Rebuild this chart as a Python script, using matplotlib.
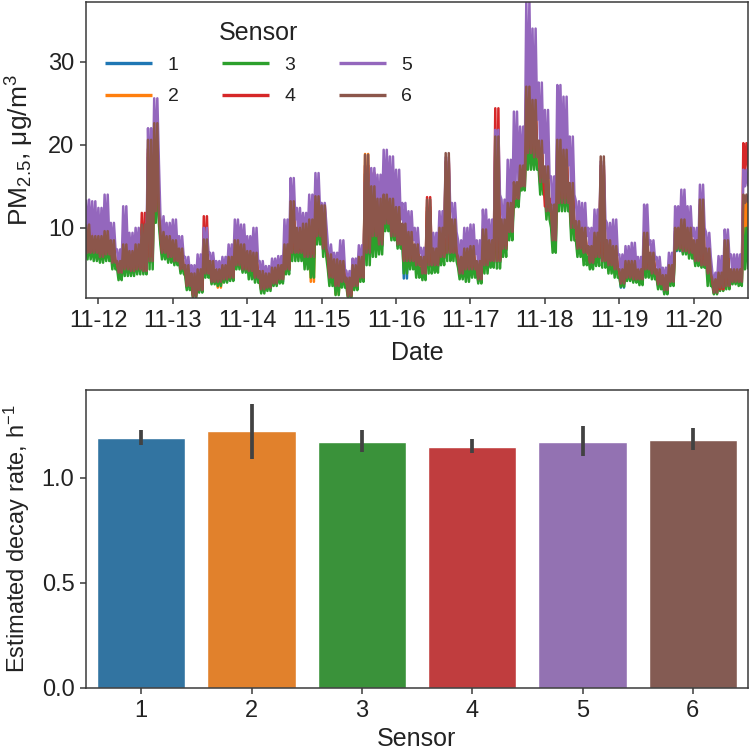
import numpy as np
import pandas as pd
import matplotlib
matplotlib.use("Agg")
import matplotlib.pyplot as plt
import matplotlib.dates as mdates
import seaborn as sns

# ---------------- data ----------------
sensors = ["1", "2", "3", "4", "5", "6"]
start_time = "2019-11-11 20:00"   # first 2-hour bin
# per 2-hour bin: upper (hi) and lower (lo) readings of each sensor, PM2.5 ug/m3
s1_hi = [9.6, 8.6, 8.4, 9.0, 7.8, 5.6, 7.4, 6.8, 7.4, 8.5,
         18.5, 21.0, 8.8, 8.4, 7.8, 6.8, 5.0, 4.0, 4.6, 7.8,
         5.4, 4.6, 5.0, 6.0, 7.8, 7.4, 6.8, 6.4, 4.4, 4.2,
         4.8, 5.0, 7.4, 12.0, 9.2, 9.6, 10.0, 12.6, 11.5, 6.2,
         5.6, 5.4, 3.6, 5.0, 6.0, 16.5, 14.0, 12.5, 13.0, 12.5,
         11.5, 9.6, 8.8, 7.4, 6.0, 12.0, 7.0, 9.2, 17.0, 10.2,
         6.0, 7.0, 7.2, 5.6, 9.0, 8.0, 19.0, 10.2, 12.0, 14.5,
         16.5, 25.0, 23.5, 19.0, 16.0, 12.0, 19.0, 18.0, 14.2, 10.0,
         9.2, 7.2, 8.6, 16.5, 7.8, 7.2, 4.6, 5.6, 5.6, 4.6,
         8.6, 6.6, 4.6, 4.0, 5.0, 9.2, 10.2, 9.2, 7.8, 12.2,
         7.0, 3.5, 4.2, 7.8, 4.6, 4.6, 13.0]
s1_lo = [6.8, 6.8, 6.3, 6.6, 5.6, 4.4, 4.8, 4.6, 4.8, 4.6,
         5.8, 11.5, 6.8, 6.3, 5.8, 4.8, 2.8, 1.8, 2.4, 4.3,
         3.4, 3.3, 3.6, 3.8, 5.3, 4.8, 4.6, 3.8, 2.5, 2.7,
         3.2, 3.5, 4.8, 6.8, 6.8, 6.3, 6.3, 8.8, 7.3, 3.8,
         2.9, 3.3, 1.7, 2.9, 3.8, 6.8, 8.8, 7.8, 10.2, 8.8,
         7.8, 3.9, 5.8, 5.3, 4.3, 5.3, 5.3, 6.3, 6.8, 6.8,
         4.3, 4.8, 4.8, 3.6, 5.3, 5.8, 5.8, 7.3, 9.3, 13.2,
         14.8, 18.5, 18.0, 15.0, 11.6, 8.2, 12.6, 12.6, 9.6, 7.2,
         6.8, 5.6, 6.3, 5.8, 5.3, 4.8, 2.8, 3.8, 3.6, 3.6,
         4.8, 4.3, 3.0, 2.1, 3.3, 7.2, 7.0, 6.8, 5.8, 5.3,
         4.3, 2.1, 2.7, 2.9, 3.4, 3.4, 6.0]
s2_hi = [9.8, 8.8, 8.6, 9.2, 8.0, 5.7, 7.6, 7.0, 7.6, 8.8,
         19.0, 21.5, 9.0, 8.6, 8.0, 7.0, 5.1, 4.1, 4.7, 8.0,
         5.5, 4.7, 5.1, 6.1, 8.0, 7.6, 6.9, 6.5, 4.5, 4.3,
         4.9, 5.1, 7.5, 12.4, 9.4, 9.8, 10.3, 13.0, 12.0, 6.3,
         5.8, 5.6, 3.7, 5.2, 6.2, 18.9, 14.4, 12.8, 13.4, 12.8,
         11.8, 9.8, 9.0, 7.6, 6.2, 12.5, 7.2, 9.4, 17.8, 10.4,
         6.2, 7.2, 7.4, 5.7, 9.2, 8.2, 19.5, 10.4, 12.4, 14.8,
         16.8, 25.5, 24.0, 19.5, 16.5, 12.2, 19.4, 18.4, 14.6, 10.2,
         9.4, 7.4, 8.8, 17.0, 8.0, 7.4, 4.8, 5.7, 5.7, 4.7,
         8.8, 6.7, 4.7, 4.1, 5.2, 9.4, 10.4, 9.4, 8.0, 12.5,
         7.1, 3.6, 4.3, 8.0, 4.7, 4.7, 13.5]
s2_lo = [6.9, 6.9, 6.4, 6.7, 5.7, 4.5, 4.9, 4.7, 4.9, 4.7,
         5.9, 11.8, 6.9, 6.4, 5.9, 4.9, 2.9, 1.8, 2.5, 4.4,
         3.4, 2.8, 3.7, 3.9, 5.4, 4.9, 4.7, 3.9, 2.5, 2.7,
         3.2, 3.7, 4.9, 6.9, 6.9, 6.4, 3.5, 8.9, 7.4, 3.9,
         2.0, 3.4, 1.7, 2.9, 3.9, 6.9, 8.9, 7.9, 10.4, 8.9,
         7.9, 5.9, 5.9, 5.4, 4.4, 5.4, 5.4, 6.4, 6.9, 6.9,
         4.4, 4.9, 4.9, 3.7, 5.4, 5.9, 5.9, 7.4, 9.4, 13.4,
         14.9, 18.8, 17.5, 15.2, 11.8, 8.4, 12.8, 12.8, 9.8, 7.4,
         6.9, 5.7, 6.4, 5.9, 5.4, 4.9, 3.2, 3.9, 3.7, 3.7,
         4.9, 4.4, 3.1, 2.4, 3.4, 7.4, 7.1, 6.9, 5.9, 5.4,
         4.4, 2.1, 2.7, 2.9, 3.4, 3.4, 7.0]
s3_hi = [8.5, 8.0, 7.6, 8.0, 7.0, 5.2, 6.5, 6.0, 6.5, 7.5,
         15.0, 16.0, 8.0, 7.6, 7.0, 6.0, 4.2, 3.2, 3.8, 6.5,
         4.6, 4.2, 4.6, 5.0, 7.0, 6.5, 6.0, 5.5, 3.6, 3.6,
         4.2, 4.6, 6.5, 10.0, 8.5, 8.0, 8.0, 11.0, 10.0, 5.0,
         4.5, 4.5, 2.8, 4.0, 5.0, 13.0, 11.0, 10.0, 11.5, 11.0,
         10.0, 8.0, 7.5, 6.5, 5.2, 9.5, 6.2, 8.0, 14.0, 9.0,
         5.2, 6.0, 6.2, 4.8, 7.5, 7.2, 15.0, 9.0, 11.0, 13.5,
         15.5, 21.0, 20.0, 17.0, 14.0, 10.0, 16.5, 15.5, 12.5, 8.5,
         8.0, 6.5, 7.5, 13.0, 6.8, 6.2, 4.0, 4.8, 4.8, 4.2,
         7.0, 5.6, 4.0, 3.4, 4.5, 8.5, 9.0, 8.5, 7.0, 10.0,
         6.0, 3.0, 3.6, 6.0, 4.2, 4.2, 10.0]
s3_lo = [6.2, 6.0, 5.8, 6.0, 5.0, 3.7, 4.2, 4.2, 4.4, 4.4,
         5.0, 10.6, 6.2, 5.8, 5.5, 4.5, 2.5, 1.55, 2.2, 4.0,
         3.2, 3.0, 3.4, 3.6, 5.0, 4.6, 3.8, 3.4, 2.1, 2.4,
         3.0, 3.3, 4.4, 6.0, 6.0, 5.0, 4.0, 8.0, 6.5, 3.0,
         1.9, 2.8, 1.55, 2.5, 3.5, 5.5, 6.5, 6.8, 9.6, 8.5,
         7.5, 4.5, 5.0, 4.0, 3.7, 4.5, 4.6, 5.5, 6.0, 6.0,
         3.8, 3.5, 4.0, 3.3, 4.5, 5.2, 5.1, 6.5, 8.5, 12.5,
         14.5, 17.0, 17.0, 14.0, 11.0, 7.0, 12.0, 12.0, 8.5, 6.5,
         5.5, 5.0, 5.4, 5.2, 4.5, 4.0, 2.9, 3.6, 3.4, 3.1,
         4.0, 3.8, 2.6, 2.0, 3.0, 7.3, 6.8, 6.3, 5.4, 5.2,
         3.0, 2.0, 2.4, 2.6, 3.2, 3.0, 5.0]
s4_hi = [10.8, 9.8, 8.9, 9.2, 8.0, 5.8, 7.6, 7.0, 7.6, 11.8,
         19.5, 22.0, 9.2, 8.6, 8.0, 7.0, 5.2, 4.2, 4.8, 11.4,
         5.6, 4.8, 5.2, 6.2, 8.0, 7.6, 7.0, 6.6, 4.6, 4.3,
         5.0, 5.2, 7.6, 12.5, 9.5, 10.7, 10.5, 13.2, 12.8, 6.4,
         6.4, 5.8, 3.8, 6.2, 6.2, 17.5, 16.6, 15.2, 13.5, 13.0,
         12.0, 10.0, 9.0, 7.6, 6.2, 13.7, 7.2, 9.5, 18.0, 10.5,
         6.2, 7.2, 7.4, 5.7, 9.4, 8.2, 24.4, 10.5, 15.8, 15.0,
         17.0, 26.6, 26.0, 20.2, 12.6, 13.5, 20.8, 20.6, 15.0, 10.4,
         9.6, 7.4, 9.0, 17.5, 8.2, 7.4, 4.8, 5.8, 5.8, 4.8,
         9.0, 6.8, 4.8, 4.2, 5.3, 9.6, 10.6, 9.6, 8.2, 12.8,
         7.2, 3.6, 4.4, 8.2, 4.8, 4.8, 20.2]
s4_lo = [7.2, 7.2, 6.8, 7.0, 6.0, 4.8, 5.2, 5.0, 5.2, 5.0,
         6.5, 12.5, 7.2, 6.8, 6.2, 5.2, 3.2, 2.0, 2.8, 4.8,
         3.8, 3.8, 4.0, 4.2, 5.8, 5.2, 5.0, 4.2, 2.8, 3.0,
         3.5, 4.0, 5.2, 7.2, 7.2, 6.8, 6.8, 9.2, 7.8, 4.2,
         3.2, 3.8, 2.0, 3.2, 4.2, 7.5, 9.5, 8.5, 11.0, 9.5,
         8.4, 6.2, 6.2, 5.8, 4.8, 5.8, 5.8, 6.8, 7.2, 7.2,
         4.8, 5.2, 5.2, 4.0, 5.8, 6.2, 6.2, 7.8, 10.0, 14.0,
         15.5, 19.5, 19.0, 16.0, 12.5, 9.0, 13.5, 13.5, 10.5, 7.8,
         7.2, 6.0, 6.8, 6.2, 5.8, 5.2, 3.5, 4.2, 4.0, 4.0,
         5.2, 4.8, 3.4, 2.8, 3.8, 7.8, 7.5, 7.2, 6.2, 5.8,
         4.8, 2.4, 2.6, 3.2, 3.8, 3.8, 17.0]
s5_hi = [13.4, 13.2, 12.4, 14.0, 10.6, 7.4, 12.6, 9.4, 10.0, 9.0,
         22.0, 25.6, 11.4, 10.6, 11.0, 9.0, 6.5, 5.5, 6.8, 10.0,
         7.0, 6.0, 6.5, 8.0, 11.0, 10.4, 9.0, 10.0, 6.0, 5.4,
         6.3, 6.6, 11.0, 16.0, 12.4, 11.8, 14.0, 16.6, 13.0, 8.0,
         7.0, 8.5, 4.8, 6.3, 7.9, 15.5, 17.2, 16.4, 19.4, 18.6,
         17.0, 13.0, 12.0, 10.0, 7.6, 10.0, 9.4, 12.0, 18.5, 13.0,
         8.5, 10.0, 10.4, 8.5, 12.2, 11.0, 21.8, 13.4, 18.2, 24.0,
         22.2, 37.2, 34.0, 27.5, 24.2, 16.2, 27.2, 25.8, 21.0, 13.2,
         13.0, 10.0, 12.2, 18.0, 10.6, 11.0, 6.8, 7.8, 8.2, 6.5,
         12.8, 8.5, 6.5, 5.2, 7.0, 12.6, 14.6, 12.6, 10.0, 15.2,
         9.4, 4.6, 6.6, 9.8, 6.8, 6.8, 17.0]
s5_lo = [9.0, 8.2, 8.0, 8.6, 7.5, 5.4, 7.0, 6.5, 7.0, 7.5,
         14.0, 18.0, 8.5, 8.0, 7.5, 6.5, 4.5, 3.5, 4.2, 7.0,
         5.2, 4.4, 4.8, 5.6, 7.5, 7.0, 6.5, 6.0, 4.0, 3.8,
         4.6, 4.8, 7.0, 11.0, 9.0, 9.0, 9.5, 12.0, 10.5, 5.8,
         5.2, 5.0, 3.2, 4.6, 5.6, 12.0, 13.0, 12.0, 13.0, 12.0,
         11.0, 9.0, 8.5, 7.0, 5.8, 7.5, 6.8, 8.8, 12.0, 9.5,
         5.8, 6.5, 6.8, 5.2, 8.4, 7.6, 14.0, 9.8, 12.0, 15.0,
         17.0, 24.0, 23.0, 19.0, 16.0, 11.5, 18.5, 17.5, 14.0, 9.8,
         9.0, 7.0, 8.4, 11.0, 7.5, 6.8, 4.4, 5.2, 5.2, 4.4,
         8.0, 6.2, 4.4, 3.8, 4.8, 9.0, 10.0, 9.0, 7.6, 10.0,
         6.5, 3.3, 4.0, 6.5, 4.5, 4.5, 15.0]
s6_hi = [10.4, 9.0, 9.0, 9.6, 8.5, 6.0, 8.0, 7.2, 8.0, 10.4,
         20.6, 22.6, 9.5, 9.0, 8.5, 7.5, 5.5, 4.5, 5.0, 8.6,
         6.0, 5.0, 5.5, 6.5, 8.5, 8.0, 7.2, 7.0, 4.8, 4.5,
         5.2, 5.5, 8.0, 13.2, 10.0, 10.5, 11.0, 13.8, 12.7, 6.8,
         6.2, 6.0, 4.0, 5.5, 6.5, 18.8, 15.0, 13.5, 14.0, 13.5,
         12.5, 10.5, 9.5, 8.0, 6.5, 13.4, 7.5, 10.0, 19.0, 11.0,
         6.5, 7.5, 7.8, 6.0, 9.8, 8.5, 21.0, 11.0, 13.0, 15.5,
         17.5, 27.0, 25.4, 20.5, 17.4, 12.8, 20.6, 19.4, 15.4, 10.8,
         10.0, 7.8, 9.4, 18.6, 8.5, 7.8, 5.0, 6.0, 6.0, 5.0,
         9.4, 7.0, 5.0, 4.3, 5.5, 10.0, 11.0, 10.0, 8.5, 13.4,
         7.5, 3.8, 4.6, 8.5, 5.0, 5.0, 14.0]
s6_lo = [7.0, 7.0, 6.5, 6.8, 5.8, 4.6, 5.0, 4.8, 5.0, 4.8,
         6.0, 12.0, 7.0, 6.5, 6.0, 5.0, 3.0, 1.7, 2.5, 4.5,
         3.5, 3.5, 3.8, 4.0, 5.5, 5.0, 4.8, 4.0, 2.6, 2.8,
         3.3, 3.8, 5.0, 7.0, 7.0, 6.5, 6.5, 9.0, 7.5, 4.0,
         3.0, 3.5, 1.8, 3.0, 4.0, 7.0, 9.0, 8.0, 10.5, 9.0,
         8.0, 6.0, 6.0, 5.5, 4.5, 5.5, 5.5, 6.5, 7.0, 7.0,
         4.5, 5.0, 5.0, 3.8, 5.5, 6.0, 6.0, 7.5, 9.5, 13.5,
         15.0, 19.0, 18.5, 15.5, 12.0, 8.5, 13.0, 13.0, 10.0, 7.5,
         7.0, 5.8, 6.5, 6.0, 5.5, 5.0, 3.3, 4.0, 3.8, 3.8,
         5.0, 4.5, 3.2, 2.5, 3.5, 7.5, 7.2, 7.0, 6.0, 5.5,
         4.5, 2.2, 2.8, 3.0, 3.5, 3.5, 13.0]

# decay-rate bar chart
decay_rate = [1.19, 1.22, 1.17, 1.146, 1.17, 1.178]
decay_err_lo = [1.154, 1.09, 1.122, 1.117, 1.103, 1.13]
decay_err_hi = [1.229, 1.352, 1.225, 1.186, 1.244, 1.235]

his = [s1_hi, s2_hi, s3_hi, s4_hi, s5_hi, s6_hi]
los = [s1_lo, s2_lo, s3_lo, s4_lo, s5_lo, s6_lo]
for a in his + los:
    assert len(a) == 107, len(a)

# ---------------- style ----------------
sns.set_style("ticks")
plt.rcParams["font.family"] = ["Liberation Sans", "DejaVu Sans"]
plt.rcParams["mathtext.fontset"] = "custom"
plt.rcParams["mathtext.rm"] = "Liberation Sans"
plt.rcParams["mathtext.it"] = "Liberation Sans:italic"
plt.rcParams["mathtext.bf"] = "Liberation Sans:bold"
plt.rcParams["axes.edgecolor"] = "#3a3a3a"
plt.rcParams["axes.linewidth"] = 1.1
plt.rcParams["text.color"] = "#222222"
plt.rcParams["axes.labelcolor"] = "#222222"
plt.rcParams["xtick.color"] = "#3a3a3a"
plt.rcParams["ytick.color"] = "#3a3a3a"
plt.rcParams["xtick.labelcolor"] = "#222222"
plt.rcParams["ytick.labelcolor"] = "#222222"

palette = sns.color_palette("tab10", 6)

fig = plt.figure(figsize=(7.5, 7.52), dpi=100)
W, H = 750.0, 752.0
ax1 = fig.add_axes([86 / W, (H - 298) / H, 662 / W, 296 / H])
ax2 = fig.add_axes([86 / W, (H - 688) / H, 662 / W, 298 / H])

# ---------------- time series ----------------
# each 2-hour bin is drawn as its readings alternating hi/lo every 30 minutes,
# which renders the dense, noisy band of the original high-frequency record
nbin = len(s6_hi)
times = pd.date_range(start_time, periods=4 * nbin, freq="30min")

all_vals = []
for name, hi, lo, col in zip(sensors, his, los, palette):
    vals = np.empty(4 * nbin)
    vals[0::4] = hi
    vals[1::4] = lo
    vals[2::4] = hi
    vals[3::4] = lo
    all_vals.append(vals)
    ax1.plot(times, vals, color=col, lw=1.8, label=name,
             solid_joinstyle="round", solid_capstyle="butt")

all_vals = np.concatenate(all_vals)
ax1.set_xlim(times[0], times[-1])
ax1.set_ylim(all_vals.min(), all_vals.max())
ax1.set_yticks([10, 20, 30])
ax1.xaxis.set_major_locator(mdates.DayLocator())
ax1.xaxis.set_major_formatter(mdates.DateFormatter("%m-%d"))
ax1.set_xlabel("Date", fontsize=18, labelpad=7)
ax1.set_ylabel("PM$_{2.5}$, μg/m$^3$", fontsize=19, labelpad=9)

leg = ax1.legend(title="Sensor", ncol=3, frameon=False, loc="upper left",
                 fontsize=14, title_fontsize=18, handlelength=2.4,
                 handletextpad=0.8, columnspacing=2.25, labelspacing=0.7,
                 borderaxespad=0.6)
leg._legend_box.sep = 8
for h in leg.legend_handles:
    h.set_linewidth(2.4)

# ---------------- bar chart ----------------
bar_cols = [sns.desaturate(c, 0.75) for c in palette]
xpos = np.arange(len(sensors))
ax2.bar(xpos, decay_rate, width=0.8, color=bar_cols)
for x, lo, hi in zip(xpos, decay_err_lo, decay_err_hi):
    ax2.plot([x, x], [lo, hi], color=".26", lw=2.7, solid_capstyle="butt")
ax2.set_xticks(xpos)
ax2.set_xticklabels(sensors)
ax2.set_xlim(-0.5, len(sensors) - 0.5)
ax2.set_ylim(0, 1.417)
ax2.set_yticks([0.0, 0.5, 1.0])
ax2.set_xlabel("Sensor", fontsize=18, labelpad=4)
ax2.set_ylabel("Estimated decay rate, h$^{-1}$", fontsize=17, labelpad=7)

for ax in (ax1, ax2):
    ax.tick_params(axis="both", labelsize=17, length=4.3, width=1.1, pad=4,
                   direction="out")
    for sp in ax.spines.values():
        sp.set_visible(True)

fig.savefig("out.png", dpi=100)
